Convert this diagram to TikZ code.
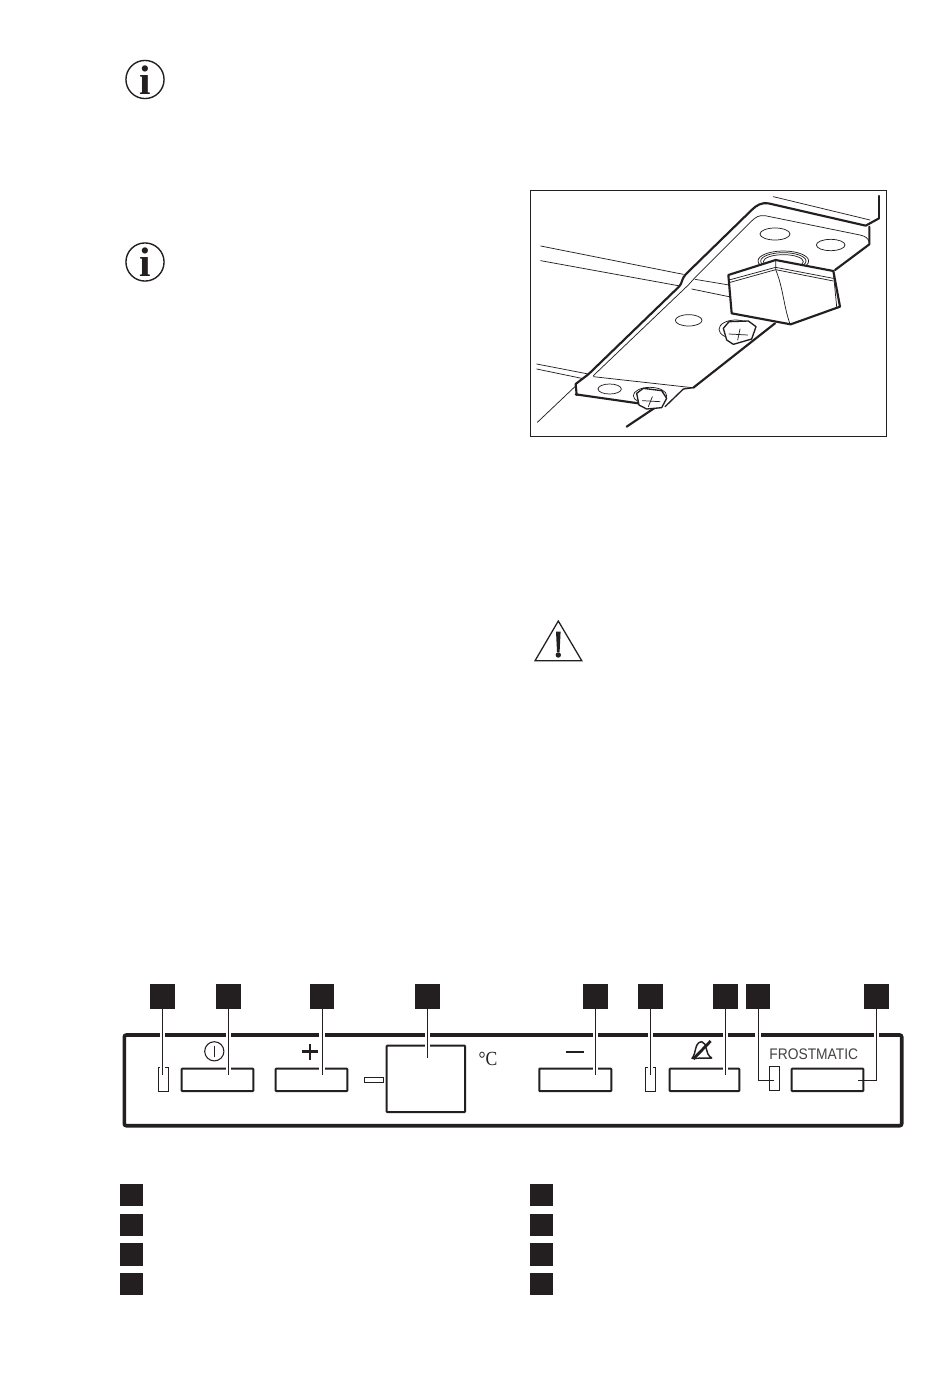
\documentclass[tikz,border=0pt]{standalone}
\usepackage{fontspec}
\setmainfont{Liberation Serif}
\newfontfamily\panelsans{Liberation Sans}
\definecolor{ink}{HTML}{231F20}
\tikzset{
  sq/.style={fill=ink,draw=none,minimum size=18.3pt,inner sep=0pt,outer sep=0pt},
  sqs/.style={fill=ink,draw=none,minimum width=17.2pt,minimum height=16.7pt,inner sep=0pt,outer sep=0pt},
  btn/.style={draw=ink,line width=1.5pt,fill=white,rounded corners=0.4pt},
  led/.style={draw=ink,line width=0.6pt,fill=white},
  leader/.style={draw=ink,line width=0.75pt,preaction={draw=white,line width=3.9pt}},
  thick1/.style={draw=ink,line width=1.6pt,line join=round,line cap=round},
  med/.style={draw=ink,line width=1pt,line join=round,line cap=round},
  thin1/.style={draw=ink,line width=0.55pt,line join=round,line cap=round},
}
\begin{document}
\begin{tikzpicture}[x=0.75pt,y=-0.75pt]
\useasboundingbox (0,0) rectangle (950,1374);
\fill[white] (0,0) rectangle (950,1374);

% info icons
\node[circle,draw=ink,line width=1.05pt,minimum size=28.6pt,inner sep=0pt] (info1) at (145,79.5) {};
\node[text=ink,inner sep=0pt,font=\fontsize{31}{31}\selectfont\bfseries] (i1) at (145.5,80) {i};
\node[circle,draw=ink,line width=1.05pt,minimum size=28.6pt,inner sep=0pt] (info2) at (145,262) {};
\node[text=ink,inner sep=0pt,font=\fontsize{31}{31}\selectfont\bfseries] (i2) at (145.5,262.5) {i};

% photo frame
\draw[ink,line width=0.7pt] (530.7,190) rectangle (886,436.7);

\begin{scope}[shift={(525,185)},x=0.25pt,y=-0.25pt]
  % background lines
  \draw[thin1] (47,183)--(475,268);
  \draw[thin1] (47,227)--(465,303);
  \draw[thin1] (510,283)--(612,300);
  \draw[thin1] (500,312)--(612,335);
  \draw[thin1] (35,537)--(190,567);
  \draw[thin1] (35,552)--(170,580);
  \draw[thin1] (37,712)--(155,600);
  \draw[thin1] (745,35)--(1035,105);
  % bracket outer
  \draw[thick1] (155,630)--(152,597)--(190,568)--(462,305)
     .. controls (472,295) and (470,280) .. (482,268)
     --(680,75) .. controls (695,60) and (710,52) .. (730,55)
     --(1022,122)--(1062,100);
  \draw[med] (1062,100)--(1062,32);
  \draw[thick1] (1033,125)--(1033,178)--(930,255);
  % inner contour
  \draw[thin1] (205,572)--(490,300) .. controls (498,292) and (498,290) .. (508,280)
     --(680,108) .. controls (692,96) and (702,90) .. (720,92)
     --(1005,150) .. controls (1022,154) and (1030,160) .. (1033,172);
  \draw[thin1] (205,575)--(502,608);
  % lower edges
  \draw[thick1] (152,628)--(340,655);
  \draw[thick1] (505,608)--(750,415);
  \draw[med] (505,608)--(475,612)--(420,665);
  \draw[thick1] (305,725)--(390,668);
  % holes
  \draw[thin1] (750,147) ellipse [x radius=45,y radius=18];
  \draw[thin1] (917,180) ellipse [x radius=43,y radius=17];
  \draw[thin1] (491,406) ellipse [x radius=40,y radius=17];
  \draw[thin1] (254,612) ellipse [x radius=35,y radius=15];
  % bolt right
  \draw[thin1] (632,433) ellipse [x radius=50,y radius=28];
  \draw[med,fill=white] (595,430)--(612,410)--(670,408)--(693,425)--(680,462)--(625,478)--(605,465)--cycle;
  \draw[thin1] (612,447)--(668,450);
  \draw[thin1] (645,432)--(638,465);
  % bolt left
  \draw[thin1] (375,632) ellipse [x radius=50,y radius=25];
  \draw[med,fill=white] (335,625)--(355,610)--(410,617)--(425,640)--(410,668)--(365,672)--(342,660)--cycle;
  \draw[thin1] (352,647)--(405,650);
  \draw[thin1] (382,635)--(370,665);
  % threaded nut
  \draw[thin1,fill=white] (775,228) ellipse [x radius=76,y radius=30];
  \draw[thin1] (775,228) ellipse [x radius=68,y radius=25];
  \draw[thin1] (775,230) ellipse [x radius=60,y radius=21];
  % knob
  \draw[thick1,fill=white] (610,270)--(752,225)--(925,258)--(945,365)--(797,418)--(620,385)--cycle;
  \draw[thin1] (612,285)--(752,247)--(925,280);
  \draw[thin1] (612,293)--(752,254)--(925,288);
  \draw[thin1] (752,228)--(752,254) .. controls (775,310) and (775,360) .. (795,417);
  \draw[thin1] (925,262)--(935,365);
\end{scope}

% warning triangle
\draw[ink,line width=0.95pt,line join=miter] (558.3,621)--(581.8,660.8)--(535,660.8)--cycle;
\fill[ink] (556,631.5)--(560.6,631.5)--(559.6,652)--(557,652)--cycle;
\fill[ink] (558.3,655) circle [radius=2.7];

% control panel
\draw[ink,line width=2.7pt,rounded corners=1.5pt] (124.3,1035) rectangle (901.7,1125.7);
\draw[btn] (181.7,1068.7) rectangle (253.3,1091);
\draw[btn] (275.7,1068.7) rectangle (347.3,1091);
\draw[btn] (386.7,1045.7) rectangle (465,1112);
\draw[btn] (539.3,1068.7) rectangle (611.3,1091);
\draw[btn] (669.7,1068.7) rectangle (739.3,1091);
\draw[btn] (791.7,1068.7) rectangle (863.3,1091);
\draw[led] (158.3,1067.3) rectangle (168.3,1091.3);
\draw[led] (645.3,1067.3) rectangle (655.3,1091.3);
\draw[led] (769.3,1066.7) rectangle (779.3,1090.3);
\draw[led] (364.3,1077.3) rectangle (383.3,1082.3);

% panel symbols
\draw[ink,line width=0.8pt] (214.3,1051.3) circle [radius=9.6];
\draw[ink,line width=0.8pt] (214.3,1045.5)--(214.3,1057);
\draw[ink,line width=2pt] (310,1043.5)--(310,1060);
\draw[ink,line width=2pt] (301.7,1051.7)--(318.3,1051.7);
\draw[ink,line width=1.5pt] (565.7,1051.7)--(583.7,1051.7);
\node[text=ink,inner sep=0pt,font=\fontsize{15}{16}\selectfont] (degc) at (488,1058.5) {\scalebox{.88}[1]{°C}};
\node[text=ink!85,inner sep=0pt,font=\panelsans\fontsize{11.5}{13}\selectfont] (frost) at (813.8,1054) {\scalebox{.9}[1]{FROSTMATIC}};
\begin{scope}[shift={(520,975)},x=0.25pt,y=-0.25pt]
  \draw[ink,line width=1.1pt,line join=round] (516,250) .. controls (530,235) and (522,203) .. (545,200)
     .. controls (565,205) and (552,235) .. (575,249) -- cycle;
  \draw[ink,line width=2.1pt] (520,252)--(572,198);
\end{scope}

% numbered squares (top)
\node[sq] (s1) at (162.6,996.6) {};
\node[sq] (s2) at (228.6,996.6) {};
\node[sq] (s3) at (322,996.6) {};
\node[sq] (s4) at (427.3,996.6) {};
\node[sq] (s5) at (595.3,996.6) {};
\node[sq] (s6) at (650.6,996.6) {};
\node[sq] (s7) at (725.3,996.6) {};
\node[sq] (s8) at (758,996.6) {};
\node[sq] (s9) at (876.6,996.6) {};

% leader ends
\coordinate (e1) at (163,1075);
\coordinate (e2) at (228,1075);
\coordinate (e3) at (322,1075);
\coordinate (e4) at (427,1058.3);
\coordinate (e5) at (595,1075);
\coordinate (e6) at (651,1075);
\coordinate (e7) at (725,1075);
\coordinate (e8) at (774.3,1080.3);
\coordinate (e9) at (858.3,1080.3);

\draw[leader] (s1.south) -- (s1.south |- e1);
\draw[leader] (s2.south) -- (s2.south |- e2);
\draw[leader] (s3.south) -- (s3.south |- e3);
\draw[leader] (s4.south) -- (s4.south |- e4);
\draw[leader] (s5.south) -- (s5.south |- e5);
\draw[leader] (s6.south) -- (s6.south |- e6);
\draw[leader] (s7.south) -- (s7.south |- e7);
\draw[ink,line width=0.75pt,preaction={draw=white,line width=3.9pt,shorten >=10pt}] (s8.south) |- (e8);
\draw[ink,line width=0.75pt,preaction={draw=white,line width=3.9pt,shorten >=10pt}] (s9.south) |- (e9);

% legend squares
\node[sqs] (l1) at (131.5,1195) {};
\node[sqs] (l2) at (131.5,1224.8) {};
\node[sqs] (l3) at (131.5,1254.6) {};
\node[sqs] (l4) at (131.5,1284.2) {};
\node[sqs] (r1) at (541.2,1195) {};
\node[sqs] (r2) at (541.2,1224.8) {};
\node[sqs] (r3) at (541.2,1254.6) {};
\node[sqs] (r4) at (541.2,1284.2) {};
\end{tikzpicture}
\end{document}
